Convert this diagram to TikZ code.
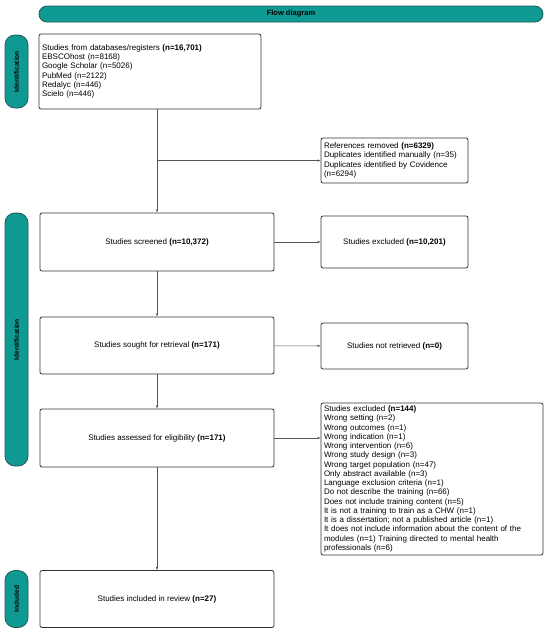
\documentclass[tikz,border=0pt]{standalone}
\usepackage{fontspec}
\setmainfont{Liberation Sans}
\usetikzlibrary{arrows.meta}
\usetikzlibrary{positioning}
\definecolor{TealFill}{HTML}{0E9A93}
\definecolor{TealEdge}{HTML}{1F5B57}
\definecolor{BoxEdge}{HTML}{333333}
\definecolor{FlowLine}{HTML}{555555}
\tikzset{
  stagebox/.style={draw=BoxEdge, line width=0.8pt, rounded corners=2pt, fill=white,
    font=\fontsize{8}{9.25}\selectfont, inner sep=2pt},
  listbox/.style={stagebox, align=left},
  phasepill/.style={draw=TealEdge, line width=0.8pt, fill=TealFill, rounded corners=10pt,
    minimum width=23pt, font=\fontsize{6.6}{8}\selectfont\bfseries},
  flowline/.style={draw=FlowLine, line width=0.5pt, -{Latex[length=3pt,width=2.4pt]}}
}

\begin{document}
\begin{tikzpicture}[x=1pt, y=-1pt]
  \useasboundingbox (0,0) rectangle (550,633);

  % heading and phases
  \node[phasepill, rounded corners=8pt, minimum width=504pt, minimum height=16pt,
    font=\fontsize{7.5}{8}\selectfont\bfseries] (Heading) at (291,14) {Flow diagram};
  \node[phasepill, minimum height=73pt] (PhaseIdent) at (16.5,71.5) {\rotatebox{90}{Identification}};
  \node[phasepill, minimum height=253pt] (PhaseScreen) at (16.5,339.5) {\rotatebox{90}{Identification}};
  \node[phasepill, minimum height=57pt] (PhaseIncl) at (16.5,599) {\rotatebox{90}{Included}};

  % main column
  \node[listbox, minimum width=222pt, minimum height=75pt, text width=216pt] (Sources) at (150,71.5) {%
    Studies from databases/registers \textbf{(n=16,701)}\\
    EBSCOhost (n=8168)\\
    Google Scholar (n=5026)\\
    PubMed (n=2122)\\
    Redalyc (n=446)\\
    Scielo (n=446)};
  \node[stagebox, minimum width=234pt, minimum height=58pt] (Screened) at (157,242) {Studies screened \textbf{(n=10,372)}};
  \node[stagebox, minimum width=234pt, minimum height=57pt] (Sought) at (157,345.5) {Studies sought for retrieval \textbf{(n=171)}};
  \node[stagebox, minimum width=234pt, minimum height=58pt] (Assessed) at (157,438) {Studies assessed for eligibility \textbf{(n=171)}};
  \node[stagebox, minimum width=234pt, minimum height=57pt] (Included) at (157,599) {Studies included in review \textbf{(n=27)}};

  % side column
  \node[listbox, minimum width=147pt, minimum height=45pt, text width=141pt] (Removed) at (394.5,160.5) {%
    References removed \textbf{(n=6329)}\\
    Duplicates identified manually (n=35)\\
    Duplicates identified by Covidence\\
    (n=6294)};
  \node[stagebox, minimum width=147pt, minimum height=52pt] (ExclScreen) at (394.5,242) {Studies excluded \textbf{(n=10,201)}};
  \node[stagebox, minimum width=147pt, minimum height=46pt] (NotRetr) at (394.5,346) {Studies not retrieved \textbf{(n=0)}};
  \node[listbox, minimum width=222pt, minimum height=152pt, text width=216pt] (ExclFull) at (432,479) {%
    Studies excluded \textbf{(n=144)}\\
    Wrong setting (n=2)\\
    Wrong outcomes (n=1)\\
    Wrong indication (n=1)\\
    Wrong intervention (n=6)\\
    Wrong study design (n=3)\\
    Wrong target population (n=47)\\
    Only abstract available (n=3)\\
    Language exclusion criteria (n=1)\\
    Do not describe the training (n=66)\\
    Does not include training content (n=5)\\
    It is not a training to train as a CHW (n=1)\\
    It is a dissertation; not a published article (n=1)\\
    It does not include information about the content of the\\
    modules (n=1) Training directed to mental health\\
    professionals (n=6)};

  % connectors
  \coordinate (Split) at (Screened.north |- Removed.west);
  \draw[flowline] (Screened.north |- Sources.south) -- (Screened.north);
  \draw[flowline] (Split) -- (Removed.west);
  \draw[flowline] (Screened) -- (ExclScreen);
  \draw[flowline] (Screened) -- (Sought);
  \draw[flowline] (Sought) -- (NotRetr);
  \draw[flowline] (Sought) -- (Assessed);
  \draw[flowline] (Assessed.east) -- (Assessed.east -| ExclFull.west);
  \draw[flowline] (Assessed) -- (Included);
\end{tikzpicture}
\end{document}
